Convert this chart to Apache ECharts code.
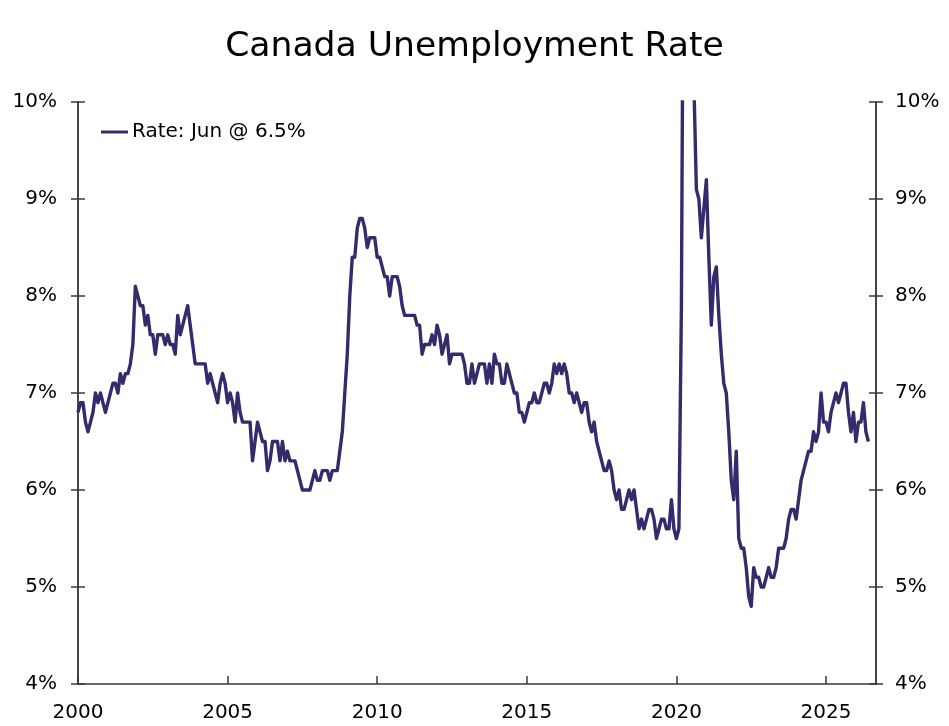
<!DOCTYPE html>
<html>
<head>
<meta charset="utf-8">
<title>Canada Unemployment Rate</title>
<script src="https://cdn.jsdelivr.net/npm/echarts@6/dist/echarts.min.js"></script>
<style>
  html, body { margin: 0; padding: 0; background: #fff; }
  #chart { width: 949px; height: 726px; }
</style>
</head>
<body>
<div id="chart"></div>
<script>
// monthly unemployment rate (%), Jan 2000 .. Jun 2026, one row per year
const firstYear = 2000;
const rates = [
  6.8, 6.9, 6.9, 6.7, 6.6, 6.7, 6.8, 7.0, 6.9, 7.0, 6.9, 6.8,   // 2000
  6.9, 7.0, 7.1, 7.1, 7.0, 7.2, 7.1, 7.2, 7.2, 7.3, 7.5, 8.1,   // 2001
  8.0, 7.9, 7.9, 7.7, 7.8, 7.6, 7.6, 7.4, 7.6, 7.6, 7.6, 7.5,   // 2002
  7.6, 7.5, 7.5, 7.4, 7.8, 7.6, 7.7, 7.8, 7.9, 7.7, 7.5, 7.3,   // 2003
  7.3, 7.3, 7.3, 7.3, 7.1, 7.2, 7.1, 7.0, 6.9, 7.1, 7.2, 7.1,   // 2004
  6.9, 7.0, 6.9, 6.7, 7.0, 6.8, 6.7, 6.7, 6.7, 6.7, 6.3, 6.5,   // 2005
  6.7, 6.6, 6.5, 6.5, 6.2, 6.3, 6.5, 6.5, 6.5, 6.3, 6.5, 6.3,   // 2006
  6.4, 6.3, 6.3, 6.3, 6.2, 6.1, 6.0, 6.0, 6.0, 6.0, 6.1, 6.2,   // 2007
  6.1, 6.1, 6.2, 6.2, 6.2, 6.1, 6.2, 6.2, 6.2, 6.4, 6.6, 7.0,   // 2008
  7.4, 8.0, 8.4, 8.4, 8.7, 8.8, 8.8, 8.7, 8.5, 8.6, 8.6, 8.6,   // 2009
  8.4, 8.4, 8.3, 8.2, 8.2, 8.0, 8.2, 8.2, 8.2, 8.1, 7.9, 7.8,   // 2010
  7.8, 7.8, 7.8, 7.8, 7.7, 7.7, 7.4, 7.5, 7.5, 7.5, 7.6, 7.5,   // 2011
  7.7, 7.6, 7.4, 7.5, 7.6, 7.3, 7.4, 7.4, 7.4, 7.4, 7.4, 7.3,   // 2012
  7.1, 7.1, 7.3, 7.1, 7.2, 7.3, 7.3, 7.3, 7.1, 7.3, 7.1, 7.4,   // 2013
  7.3, 7.3, 7.1, 7.1, 7.3, 7.2, 7.1, 7.0, 7.0, 6.8, 6.8, 6.7,   // 2014
  6.8, 6.9, 6.9, 7.0, 6.9, 6.9, 7.0, 7.1, 7.1, 7.0, 7.1, 7.3,   // 2015
  7.2, 7.3, 7.2, 7.3, 7.2, 7.0, 7.0, 6.9, 7.0, 6.9, 6.8, 6.9,   // 2016
  6.9, 6.7, 6.6, 6.7, 6.5, 6.4, 6.3, 6.2, 6.2, 6.3, 6.2, 6.0,   // 2017
  5.9, 6.0, 5.8, 5.8, 5.9, 6.0, 5.9, 6.0, 5.8, 5.6, 5.7, 5.6,   // 2018
  5.7, 5.8, 5.8, 5.7, 5.5, 5.6, 5.7, 5.7, 5.6, 5.6, 5.9, 5.6,   // 2019
  5.5, 5.6, 7.9, 13.1, 14.0, 12.6, 10.9, 10.2, 9.1, 9.0, 8.6, 8.9, // 2020
  9.2, 8.4, 7.7, 8.2, 8.3, 7.8, 7.4, 7.1, 7.0, 6.6, 6.1, 5.9,   // 2021
  6.4, 5.5, 5.4, 5.4, 5.2, 4.9, 4.8, 5.2, 5.1, 5.1, 5.0, 5.0,   // 2022
  5.1, 5.2, 5.1, 5.1, 5.2, 5.4, 5.4, 5.4, 5.5, 5.7, 5.8, 5.8,   // 2023
  5.7, 5.9, 6.1, 6.2, 6.3, 6.4, 6.4, 6.6, 6.5, 6.6, 7.0, 6.7,   // 2024
  6.7, 6.6, 6.8, 6.9, 7.0, 6.9, 7.0, 7.1, 7.1, 6.8, 6.6, 6.8,   // 2025
  6.5, 6.7, 6.7, 6.9, 6.6, 6.5                                  // 2026
];
const monthNames = ['Jan', 'Feb', 'Mar', 'Apr', 'May', 'Jun',
                    'Jul', 'Aug', 'Sep', 'Oct', 'Nov', 'Dec'];
const yearTicks = [2000, 2005, 2010, 2015, 2020, 2025];
const pctMin = 4;
const pctMax = 10;

const FONT = 'DejaVu Sans';
const LINE_COLOR = '#352a6b';
const AXIS_COLOR = '#3a3a3a';

const points = rates.map((v, i) => [firstYear + i / 12, v]);
const last = rates.length - 1;
const seriesName = 'Rate: ' + monthNames[last % 12] + ' @ ' + rates[last].toFixed(1) + '%';

// y axis helper: ticks cross the axis line, so each side gets an outside
// axis (with labels) plus an inside axis (ticks only)
function pctAxis(position, inside, margin) {
  return {
    type: 'value',
    position: position,
    min: pctMin,
    max: pctMax,
    interval: 1,
    axisLine: {show: true, lineStyle: {color: AXIS_COLOR, width: 1.5}},
    axisTick: {show: true, inside: inside, length: 7, lineStyle: {color: AXIS_COLOR, width: 1.5}},
    axisLabel: {
      show: !inside,
      margin: margin,
      formatter: '{value}%',
      fontFamily: FONT,
      fontSize: 20,
      color: '#000'
    },
    splitLine: {show: false}
  };
}

const chart = echarts.init(document.getElementById('chart'), null, {renderer: 'canvas'});

const option = {
  animation: false,
  backgroundColor: '#fff',
  title: {
    text: 'Canada Unemployment Rate',
    left: 'center',
    top: 25,
    textStyle: {fontFamily: FONT, fontSize: 34.6, fontWeight: 'normal', color: '#000'}
  },
  legend: {
    left: 101,
    top: 122,
    padding: 0,
    itemWidth: 27,
    itemHeight: 3,
    itemGap: 4,
    textStyle: {fontFamily: FONT, fontSize: 20, color: '#000', padding: [0, 0, 0, -1]},
    data: [{name: seriesName, icon: 'rect'}]
  },
  grid: {left: 78, right: 73, top: 102, bottom: 42, containLabel: false},
  xAxis: {
    type: 'value',
    min: 2000,
    max: 2026.67,
    interval: 5,
    axisLine: {show: true, lineStyle: {color: AXIS_COLOR, width: 1.5}},
    axisTick: {show: true, inside: true, length: 8, lineStyle: {color: AXIS_COLOR, width: 1.5}},
    axisLabel: {
      margin: 19,
      showMaxLabel: false,
      fontFamily: FONT,
      fontSize: 20,
      color: '#000',
      formatter: (v) => (yearTicks.indexOf(Math.round(v)) >= 0 && Math.abs(v - Math.round(v)) < 1e-6) ? String(Math.round(v)) : ''
    },
    splitLine: {show: false}
  },
  yAxis: [
    pctAxis('left', false, 21),
    pctAxis('right', false, 19),
    pctAxis('left', true, 0),
    pctAxis('right', true, 0)
  ],
  series: [
    {
      name: seriesName,
      type: 'line',
      data: points,
      symbol: 'none',
      clip: true,
      color: LINE_COLOR,
      lineStyle: {color: LINE_COLOR, width: 3.4, join: 'round'}
    }
  ]
};

chart.setOption(option);
</script>
</body>
</html>
